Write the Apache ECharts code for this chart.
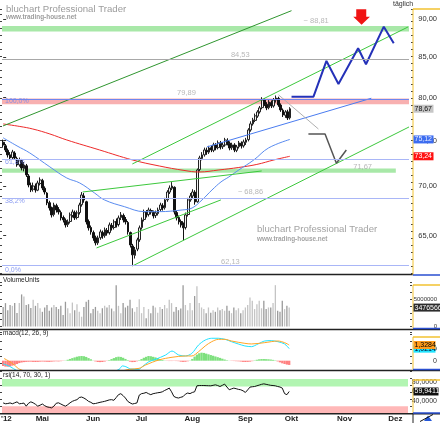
<!DOCTYPE html>
<html><head><meta charset="utf-8">
<script src="https://cdn.jsdelivr.net/npm/echarts@6/dist/echarts.min.js"></script>
<style>html,body{margin:0;padding:0;background:#fff}#c{width:440px;height:423px}</style>
</head><body><div id="c"></div>
<script>
// ---------- DATA ----------
const holidays = ['2012-04-06','2012-04-09','2012-05-01'];
const firstDay = '2012-04-04', lastDay = '2012-12-10';
const monthNames = ['Jan','Feb','Mär','Apr','Mai','Jun','Jul','Aug','Sep','Okt','Nov','Dez'];
const priceTicks = [65,70,75,80,85,90];
const priceRange = [61.45, 91.40];
// [open, close, low, high]
const candles = [
[74.80,74.50,74.20,75.10],[74.40,73.94,73.70,74.60],[73.90,73.39,73.10,74.10],[73.40,73.06,72.80,73.70],[73.10,73.72,72.90,73.95],
[73.60,73.06,72.85,73.80],[73.00,72.29,72.10,73.20],[72.30,72.84,72.10,73.10],[72.80,71.96,71.70,72.95],[71.90,72.29,71.60,72.60],
[72.20,71.22,71.00,72.40],[71.10,70.15,69.90,71.30],[70.10,69.62,69.40,70.40],[69.70,70.04,69.45,70.40],[70.00,69.62,69.35,70.30],
[69.60,70.36,69.50,70.60],[70.30,70.68,70.10,70.95],[70.60,69.83,69.60,70.80],[69.80,69.41,69.15,70.00],[69.30,68.28,68.05,69.40],
[68.30,67.77,67.50,68.50],[67.80,67.06,66.80,67.90],[67.10,68.07,66.90,68.30],[68.00,67.56,67.30,68.20],[67.60,67.36,67.10,67.85],
[67.30,66.76,66.50,67.50],[66.80,66.56,66.30,67.00],[66.50,66.06,65.80,66.70],[66.10,66.36,65.85,66.60],[66.40,67.06,66.20,67.30],
[67.00,67.36,66.80,67.60],[67.30,66.76,66.55,67.50],[66.80,67.26,66.60,67.50],[67.30,68.07,67.10,68.30],[68.10,69.10,67.90,69.40],
[69.00,68.59,68.30,69.30],[68.40,66.36,66.10,68.50],[66.40,65.77,65.50,66.60],[65.80,65.37,65.10,66.00],[65.30,64.78,64.50,65.50],
[64.80,64.30,64.05,65.00],[64.30,64.78,64.10,65.00],[64.80,65.37,64.60,65.60],[65.30,64.98,64.70,65.50],[65.00,65.57,64.80,65.80],
[65.50,65.27,65.00,65.75],[65.30,66.06,65.10,66.30],[66.00,65.77,65.50,66.25],[65.80,66.36,65.60,66.60],[66.40,66.06,65.80,66.70],
[66.10,66.76,65.90,67.00],[66.80,67.06,66.55,67.35],[67.00,66.56,66.30,67.20],[66.60,66.36,66.10,66.85],[66.30,65.37,65.10,66.45],
[65.30,64.10,63.85,65.40],[64.00,63.15,62.20,64.20],[63.10,63.62,62.80,63.90],[63.70,64.59,63.50,64.80],[64.60,65.77,64.40,66.00],
[65.80,66.56,65.60,66.80],[66.60,67.36,66.40,67.60],[67.30,67.06,66.80,67.55],[67.10,67.56,66.90,67.80],[67.50,67.36,67.10,67.70],
[67.30,66.96,66.70,67.50],[67.00,67.26,66.75,67.50],[67.20,67.56,67.00,67.80],[67.60,68.07,67.40,68.30],[68.00,67.77,67.50,68.25],
[67.80,68.59,67.60,68.80],[68.60,69.41,68.40,69.60],[69.40,69.83,69.20,70.10],[69.80,70.04,69.60,70.45],[69.90,67.36,67.10,70.00],
[67.30,66.76,66.50,67.50],[66.80,66.36,66.10,67.00],[66.40,66.06,65.80,66.60],[66.00,65.77,64.55,66.30],[65.80,67.06,65.60,67.30],
[67.10,68.59,66.90,68.80],[68.60,69.00,68.40,69.30],[69.00,69.41,68.70,69.70],[69.40,68.38,68.10,69.60],[68.40,71.75,68.30,71.90],
[71.80,73.06,71.60,73.30],[73.00,73.39,72.80,73.70],[73.40,73.94,73.20,74.20],[73.90,73.72,73.40,74.20],[73.70,74.16,73.50,74.40],
[74.20,73.94,73.70,74.45],[73.90,74.50,73.70,74.75],[74.50,74.16,73.90,74.70],[74.20,74.73,74.00,75.00],[74.70,74.28,74.00,74.95],
[74.30,74.50,74.05,74.80],[74.50,75.06,74.30,75.30],[75.00,74.73,74.45,75.25],[74.70,74.16,73.90,74.90],[74.20,74.50,73.95,74.75],
[74.50,73.94,73.70,74.70],[73.90,74.28,73.70,74.50],[74.30,74.73,74.10,74.95],[74.70,74.39,74.10,74.90],[74.40,74.84,74.20,75.10],
[74.80,75.06,74.50,75.30],[75.10,76.20,74.90,76.40],[76.20,76.90,76.00,77.20],[76.90,77.36,76.70,77.60],[77.30,77.83,77.10,78.10],
[77.80,78.29,77.60,78.50],[78.30,78.77,78.10,79.00],[78.80,79.71,78.60,80.05],[79.70,79.24,79.00,79.90],[79.20,78.77,78.50,79.45],
[78.80,79.47,78.60,79.70],[79.40,79.00,78.75,79.65],[79.00,79.71,78.80,79.95],[79.70,79.95,79.40,80.25],[79.90,79.12,78.90,80.10],
[79.10,78.53,78.30,79.30],[78.50,77.94,77.70,78.70],[77.90,78.29,77.60,78.50],[78.30,77.59,77.35,78.55],[77.60,78.67,77.40,78.85]
];
const volumes = [3600000,4300000,3000000,3950000,3800000,4300000,2500000,4300000,5900000,5500000,
3950000,4100000,3400000,4900000,3800000,4300000,3350000,2700000,3500000,3950000,
2900000,3500000,3950000,3600000,3200000,3800000,2100000,4550000,3350000,2450000,
4400000,3000000,4100000,2700000,1800000,3600000,4550000,4900000,2450000,3200000,
3600000,2900000,2450000,3350000,3800000,3500000,3950000,3300000,2800000,7600000,
3800000,2450000,4300000,3500000,3800000,4900000,3350000,2700000,3600000,5000000,
2450000,3600000,1500000,3200000,2450000,3800000,3500000,2550000,3600000,3200000,
3950000,3350000,4900000,4300000,2700000,3600000,3000000,3300000,7600000,3950000,
3000000,4300000,3000000,5600000,7400000,4300000,3500000,3200000,2450000,3500000,
2550000,3000000,2700000,3500000,3000000,3200000,2900000,3800000,2900000,2450000,
3500000,3000000,3350000,2450000,3000000,3500000,3950000,5350000,4750000,3200000,
4100000,4750000,3350000,4750000,3200000,3500000,3500000,4300000,7600000,2900000,
2700000,4750000,3200000,3800000,3476566];
const rsiValues = [36.8,35.1,35.6,36.8,35.1,37.0,39.0,35.1,35.6,36.5,
30.2,36.1,39.0,37.0,34.1,30.2,32.2,34.6,31.2,28.8,
27.8,26.8,30.2,36.1,37.0,34.6,32.2,30.2,33.2,37.0,
40.0,41.9,43.4,47.7,48.7,46.7,43.8,40.0,38.0,35.1,
35.6,36.8,38.0,39.0,40.0,41.4,42.9,43.4,42.1,47.7,
53.5,55.5,51.6,46.7,40.0,37.0,34.6,35.6,36.8,52.6,
55.6,56.4,58.0,55.5,53.5,55.5,56.4,57.4,58.0,59.3,
62.0,64.2,66.8,59.3,50.0,47.7,46.7,48.2,49.6,54.5,
56.8,55.6,58.0,59.3,71.4,72.0,72.0,72.0,71.8,71.6,
71.4,72.4,73.4,72.0,70.0,72.4,74.9,69.0,63.4,65.2,
66.8,65.6,64.2,63.4,61.3,58.0,63.2,68.8,69.5,70.0,
71.5,72.9,74.4,75.4,74.4,73.4,72.4,72.0,71.4,70.0,
69.0,66.8,55.6,53.5,59.9411];
const macdHist = [-0.45,-0.50,-0.51,-0.48,-0.42,-0.35,-0.28,-0.20,-0.15,-0.12,
-0.10,-0.09,-0.08,-0.10,-0.11,-0.10,-0.08,-0.07,-0.08,-0.09,
-0.10,-0.08,-0.06,-0.05,-0.06,-0.04,-0.02,0.02,0.08,0.15,
0.22,0.28,0.34,0.38,0.40,0.38,0.32,0.22,0.12,0.02,
-0.06,-0.11,-0.12,-0.11,-0.07,-0.02,0.05,0.14,0.22,0.30,
0.34,0.32,0.25,0.15,0.05,-0.08,-0.12,-0.11,-0.05,0.04,
0.14,0.25,0.33,0.40,0.38,0.33,0.28,0.22,0.14,0.06,
0.02,-0.02,-0.03,-0.03,-0.02,-0.03,-0.04,-0.08,-0.10,-0.09,
-0.05,0.02,0.15,0.35,0.52,0.63,0.68,0.66,0.60,0.54,
0.48,0.42,0.36,0.30,0.24,0.17,0.10,0.04,0.01,-0.02,
-0.03,-0.04,-0.05,-0.07,-0.10,-0.11,-0.10,-0.08,-0.04,0.03,
0.08,0.12,0.14,0.14,0.13,0.12,0.10,0.07,0.03,-0.06,
-0.14,-0.22,-0.28,-0.33,-0.36];
// [day index, value]
const macdLine = [[0,-0.26],[3,-0.5],[6,-0.85],[10,-1.2],[20,-1.4],[30,-1.2],[40,-1.3],[46,-1.05],[50.3,-0.73],[51.7,-0.44],[53.2,-0.51],[55.3,-0.70],[58.9,-0.73],[60.3,-0.51],[63.2,-0.08],[66.1,0.12],[70.4,0.48],[73.2,0.82],[76.1,0.48],[79,0.40],[81.8,0.62],[84.7,1.33],[87.6,1.75],[90.4,1.90],[93.3,1.90],[96.2,1.81],[99,1.61],[101.9,1.42],[104.8,1.25],[107.6,1.19],[110.5,1.42],[113.4,1.67],[116.2,1.70],[119.1,1.61],[122,1.42],[124,1.0214]];
const signalLine = [[0.4,0.19],[3,-0.1],[5,-0.4],[7.2,-0.73],[12,-1.0],[25,-1.3],[35,-1.4],[45,-1.15],[50,-0.95],[54.6,-0.73],[58.9,-0.65],[61.8,-0.36],[67.6,0.07],[73.2,0.29],[79,0.40],[81.8,0.40],[84.7,0.76],[87.6,1.25],[90.4,1.61],[93.3,1.81],[96.2,1.81],[99,1.67],[104.8,1.47],[107.6,1.42],[113.4,1.53],[119.1,1.67],[122,1.53],[124,1.3284]];
const maRed = [[0,76.89],[7.2,76.60],[12.8,76.31],[20.2,75.74],[27.5,75.06],[41.7,73.94],[55.9,72.84],[67.5,72.18],[78.2,71.70],[84.7,71.53],[93.3,71.75],[101.9,72.02],[109.7,72.35],[117.1,72.84],[124,73.24]];
const maBlue = [[0,75.30],[6,74.39],[11.5,73.61],[20.2,72.08],[27.5,70.89],[33.1,70.36],[39.5,69.31],[43.8,68.59],[52.4,67.90],[61,67.39],[67.5,67.39],[77.4,67.56],[81.7,67.76],[86,68.59],[90.3,69.62],[94.2,70.47],[97.6,71.00],[101.9,71.75],[108.4,72.84],[114.8,74.17],[124,75.12]];
const channelUpperA = [[-0.07,76.66],[124.7,91.17]];
const channelUpperB = [[55.87,72.40],[175.06,88.96]];
const channelLowerB = [[55.87,62.10],[175.5,76.54]];
const wedgeUpper = [[34.35,69.41],[111.8,71.64]];
const wedgeLower = [[40.38,63.81],[94.16,68.59]];
const blueTrend = [[88.14,74.28],[159.2,79.92]];
const grayTrend = [[119.12,80.32],[136.33,76.31]];
const bearPath = [[132.0,75.74],[139.2,75.74],[144.1,72.48],[148.4,73.94]];
const bullPath = [[124.7,80.11],[134.2,80.11],[139.8,84.53],[145.0,81.66],[153.5,86.16],[156.9,84.11],[164.6,89.00],[168.9,86.81]];
const arrowAt = [155.0, 90.31];
const targetBand = [88.35, 89.10];
const level8453 = 84.53;
const fib100Band = [79.20, 79.89];
const fibLevels = [73.11, 68.86, 62.13];
const supportBand = [71.45, 71.90], supportBandEnd = 169.8;
const levelLabels = [[129.9,89.84,'~ 88,81'],[98.5,85.30,'84,53'],[75.2,80.56,'79,89'],[101.5,69.38,'~ 68,86'],[151.4,72.11,'71,67'],[94.2,62.51,'62,13']];
const fibLabels = [[0.79,79.53,'100,0%'],[0.79,72.62,'61,8%'],[0.79,68.48,'38,2%'],[0.79,61.68,'0,0%']];
const rsiBands = {upper:[70,85], lower:[15,30]};

// ---------- CALENDAR ----------
const days = [];
(function(){
  const d = new Date(firstDay + 'T00:00:00Z'), end = new Date(lastDay + 'T00:00:00Z');
  while (d <= end) {
    const s = d.toISOString().slice(0,10), wd = d.getUTCDay();
    if (wd !== 0 && wd !== 6 && holidays.indexOf(s) < 0) days.push(s);
    d.setUTCDate(d.getUTCDate() + 1);
  }
})();
const monthStart = {};
days.forEach((s,i) => { if (i > 0 && s.slice(5,7) !== days[i-1].slice(5,7)) monthStart[i] = monthNames[+s.slice(5,7)-1]; });
const N = days.length;

// ---------- OPTION ----------
const LN = Math.log;
const FONT = 'Liberation Sans, Arial, sans-serif';
const lnPts = arr => arr.map(p => [p[0], LN(p[1])]);
const GL = 2, GW = 409;
const grids = [
  {left:GL, top:9, width:GW, height:264},
  {left:GL, top:282, width:GW, height:44.5},
  {left:GL, top:332, width:GW, height:38},
  {left:GL, top:371, width:GW, height:42.5}
];
const yMain = [LN(priceRange[0]), LN(priceRange[1])];
const yVol = [0, 8180000], yMacd = [-0.788, 2.432], yRsi = [16.4, 101.4];
function tickAxis(grid, range, interval, pos) {
  return {type:'value', gridIndex:grid, min:range[0], max:range[1], interval:interval, position:pos, offset:pos==='right'?2:0,
    axisLine:{show:false}, axisLabel:{show:false}, splitLine:{show:false},
    axisTick:{show:true, length:2, lineStyle:{color:'#444', width:1}}};
}
const rightLabel = (extra) => Object.assign({fontSize:7.5, color:'#333', align:'right', margin:26, fontFamily:FONT}, extra);

const xAxes = [
  {type:'category', gridIndex:0, data:days, show:false},
  {type:'value', gridIndex:0, min:-0.5, max:N-0.5, show:false},
  {type:'category', gridIndex:1, data:days, show:false},
  {type:'category', gridIndex:2, data:days, show:false},
  {type:'value', gridIndex:2, min:-0.5, max:N-0.5, show:false},
  {type:'category', gridIndex:3, data:days, axisLine:{show:false}, axisTick:{show:false},
   axisLabel:{interval:(i)=>monthStart[i]!==undefined, formatter:(v,i)=>monthStart[i]||'', fontSize:8, fontWeight:'bold', color:'#222', margin:2, fontFamily:FONT}}
];
const yAxes = [
  {type:'value', gridIndex:0, min:yMain[0], max:yMain[1], position:'right', offset:2, axisLine:{show:false}, splitLine:{show:false},
   axisTick:{show:true, customValues:priceTicks.map(LN), length:3, lineStyle:{color:'#333'}},
   axisLabel:rightLabel({customValues:priceTicks.map(LN), formatter:v=>Math.exp(v).toFixed(2).replace('.',',')})},
  tickAxis(0, yMain, 0.0105, 'right'), tickAxis(0, yMain, 0.0105, 'left'),
  {type:'value', gridIndex:1, min:yVol[0], max:yVol[1], position:'right', offset:2, axisLine:{show:false}, splitLine:{show:false}, axisTick:{show:false},
   axisLabel:rightLabel({customValues:[0,5000000], formatter:v=>String(v), fontSize:6, margin:27})},
  tickAxis(1, yVol, 1250000, 'right'), tickAxis(1, yVol, 1250000, 'left'),
  {type:'value', gridIndex:2, min:yMacd[0], max:yMacd[1], position:'right', offset:2, axisLine:{show:false}, splitLine:{show:false}, axisTick:{show:false},
   axisLabel:rightLabel({customValues:[0,1], formatter:v=>v===0?'0':v.toFixed(4).replace('.',','), fontSize:7, margin:27})},
  tickAxis(2, yMacd, 0.6, 'right'), tickAxis(2, yMacd, 0.6, 'left'),
  {type:'value', gridIndex:3, min:yRsi[0], max:yRsi[1], position:'right', offset:2, axisLine:{show:false}, splitLine:{show:false}, axisTick:{show:false},
   axisLabel:rightLabel({customValues:[40,60,80], formatter:v=>v.toFixed(4).replace('.',','), fontSize:7, margin:27})},
  tickAxis(3, yRsi, 14, 'right'), tickAxis(3, yRsi, 14, 'left')
];

const GREEN_BAND = '#a8e8a8', PINK_BAND = '#f8b0b0';
const overlayLine = (data, color, width, extra) => Object.assign({type:'line', xAxisIndex:1, yAxisIndex:0, data:lnPts(data), showSymbol:false, symbol:'none', silent:true,
  lineStyle:{color:color, width:width}, z:4, animation:false}, extra||{});
const labelScatter = (items, color, size) => ({type:'scatter', xAxisIndex:1, yAxisIndex:0, symbolSize:0, silent:true, z:3,
  data:items.map(it=>({value:[it[0], LN(it[1])], label:{show:true, formatter:it[2], position:'right', distance:0, color:color, fontSize:size, fontFamily:FONT}}))});

const series = [
  {type:'line', xAxisIndex:1, yAxisIndex:0, data:[[-20, LN(70)]], symbol:'none', silent:true, z:1,
   markArea:{silent:true, data:[
     [{yAxis:LN(targetBand[0]), itemStyle:{color:GREEN_BAND}}, {yAxis:LN(targetBand[1])}],
     [{yAxis:LN(fib100Band[0]), itemStyle:{color:PINK_BAND}}, {yAxis:LN(fib100Band[1])}],
     [{xAxis:-0.5, yAxis:LN(supportBand[0]), itemStyle:{color:GREEN_BAND}}, {xAxis:supportBandEnd, yAxis:LN(supportBand[1])}]
   ]},
   markLine:{silent:true, symbol:['none','none'], label:{show:false}, data:[
     {yAxis:LN(level8453), lineStyle:{color:'#a8a8a8', width:1, type:'solid'}},
     {yAxis:LN(fib100Band[1]), lineStyle:{color:'#6f84ee', width:1, type:'solid'}},
     ...fibLevels.map(v=>({yAxis:LN(v), lineStyle:{color:'#a9b6f7', width:1, type:'solid'}}))
   ]}},
  labelScatter(levelLabels, '#a6a6a6', 7.5),
  labelScatter(fibLabels, '#6f84ee', 7),
  {type:'candlestick', xAxisIndex:0, yAxisIndex:0, z:3, data:candles.map(r=>r.map(LN)), barWidth:2.2,
   itemStyle:{color:'#f4f4f4', color0:'#111111', borderColor:'#222222', borderColor0:'#111111', borderWidth:1}},
  overlayLine(maRed, '#ee2a2a', 1, {smooth:0.4}),
  overlayLine(maBlue, '#5a8cf0', 1, {smooth:0.4}),
  overlayLine(channelUpperA, '#2f962f', 1),
  overlayLine(channelUpperB, '#3cc83c', 1),
  overlayLine(channelLowerB, '#3cc83c', 1),
  overlayLine(wedgeUpper, '#3cc83c', 1),
  overlayLine(wedgeLower, '#3cc83c', 1),
  overlayLine(blueTrend, '#4a7cf0', 1),
  overlayLine(grayTrend, '#b0b0b0', 1),
  overlayLine(bearPath, '#555555', 1.5),
  overlayLine(bullPath, '#2431b8', 2, {markPoint:{silent:true, label:{show:false}, data:[{coord:[arrowAt[0], LN(arrowAt[1])],
     symbol:'path://M3,0L13,0L13,7.5L16.7,7.5L8.35,15.7L0,7.5L3,7.5Z', symbolSize:[16.7,15.7], itemStyle:{color:'#f01414'}}]}}),
  {type:'bar', xAxisIndex:2, yAxisIndex:3, barWidth:1.3, silent:true,
   data:volumes.map((v,i)=>({value:v, itemStyle:{color: candles[i][1] >= candles[i][0] ? '#c4c4c4' : '#9a9a9a'}}))},
  {type:'bar', xAxisIndex:3, yAxisIndex:6, barCategoryGap:'0%', silent:true,
   data:macdHist.map(v=>({value:v, itemStyle:{color: v >= 0 ? '#7ee07e' : '#ff8080'}}))},
  {type:'line', xAxisIndex:4, yAxisIndex:6, data:macdLine, smooth:0.3, symbol:'none', silent:true, lineStyle:{color:'#22e2ff', width:1}},
  {type:'line', xAxisIndex:4, yAxisIndex:6, data:signalLine, smooth:0.3, symbol:'none', silent:true, lineStyle:{color:'#ffa526', width:1}},
  {type:'line', xAxisIndex:5, yAxisIndex:9, data:rsiValues, symbol:'none', silent:true, lineStyle:{color:'#111', width:1},
   markArea:{silent:true, data:[
     [{yAxis:rsiBands.upper[0], itemStyle:{color:'#b2f5b2'}}, {yAxis:rsiBands.upper[1]}],
     [{yAxis:rsiBands.lower[0], itemStyle:{color:'#ffb8b8'}}, {yAxis:rsiBands.lower[1]}]
   ]}}
];

const chart = echarts.init(document.getElementById('c'), null, {renderer:'canvas'});
chart.setOption({animation:false, backgroundColor:'#fff', textStyle:{fontFamily:FONT}, grid:grids, xAxis:xAxes, yAxis:yAxes, series:series});

// ---------- GRAPHICS ----------
const txt = (x, y, text, size, color, weight) => ({type:'text', x:x, y:y, silent:true, z:50,
  style:{text:text, font:(weight||'normal') + ' ' + size + 'px ' + FONT, fill:color, verticalAlign:'middle', align:'left'}});
const ln = (x1,y1,x2,y2,color,w) => ({type:'line', silent:true, z:60, shape:{x1,y1,x2,y2}, style:{stroke:color, lineWidth:w}});
const AX = 413;
const panels = [[9,275],[285,328.5],[337,369.5],[380,413]];
const g = [
  txt(6, 9, 'bluchart Professional Trader', 9.6, '#9c9c9c'),
  txt(6, 17.5, 'www.trading-house.net', 6.4, '#9c9c9c', 'bold'),
  txt(257, 229, 'bluchart Professional Trader', 9.6, '#a4a4a4'),
  txt(257, 239, 'www.trading-house.net', 6.4, '#a4a4a4', 'bold'),
  txt(393, 4, 'täglich', 7, '#333'),
  txt(3, 280.7, 'VolumeUnits', 6.5, '#222'),
  txt(3, 333.3, 'macd(12, 26, 9)', 6.5, '#222'),
  txt(3, 375.3, 'rsi(14, 70, 30, 1)', 6.5, '#222'),
  txt(1, 418.5, "'12", 8, '#222', 'bold'),
  ln(0, 274.5, AX, 274.5, '#222', 1.5),
  ln(0, 329.5, 440, 329.5, '#222', 1.5),
  ln(0, 370.5, 440, 370.5, '#222', 1.5),
  ln(0, 413.8, 440, 413.8, '#222', 1.5),
  ln(AX, 413.8, AX, 423, '#222', 1)
];
panels.forEach(p => {
  g.push(ln(AX, p[0], AX, p[1], '#f2c230', 1));
  g.push(ln(AX, p[0], 440, p[0], '#f2c230', 1.5));
  g.push(ln(AX, p[1], 440, p[1], '#2a4fd0', 1.5));
});
g.push({type:'polygon', silent:true, z:60, shape:{points:[[424,421],[432,421],[428,415.5]]}, style:{fill:'#2456d8'}});
g.push(ln(420, 421.5, 433, 414.5, '#111', 1));

const lastC = candles[candles.length-1][1];
const boxes = [
  [0, LN(lastC), lastC.toFixed(2).replace('.',','), '#c6c6c6', '#111', 20],
  [0, LN(maBlue[maBlue.length-1][1]), maBlue[maBlue.length-1][1].toFixed(2).replace('.',','), '#3c6cf0', '#e6ecff', 20],
  [0, LN(maRed[maRed.length-1][1]), maRed[maRed.length-1][1].toFixed(2).replace('.',','), '#ff1010', '#fff', 20],
  [3, volumes[volumes.length-1], String(volumes[volumes.length-1]), '#2c2c2c', '#fff', 27],
  [6, macdLine[macdLine.length-1][1], macdLine[macdLine.length-1][1].toFixed(4).replace('.',','), '#20e4ff', '#002', 22],
  [6, signalLine[signalLine.length-1][1], signalLine[signalLine.length-1][1].toFixed(4).replace('.',','), '#ff9c1c', '#000', 22],
  [9, rsiValues[rsiValues.length-1], rsiValues[rsiValues.length-1].toFixed(4).replace('.',','), '#111', '#fff', 25]
];
boxes.forEach((b, k) => {
  const y = chart.convertToPixel({yAxisIndex:b[0]}, b[1]);
  g.push({type:'rect', silent:true, z:70+k*2, shape:{x:AX+0.5, y:y-4, width:b[5], height:8}, style:{fill:b[3]}});
  g.push({type:'text', silent:true, z:71+k*2, x:AX+1.5, y:y, style:{text:b[2], font:'7px ' + FONT, fill:b[4], verticalAlign:'middle', align:'left'}});
});
chart.setOption({graphic:{elements:g}});
</script></body></html>
